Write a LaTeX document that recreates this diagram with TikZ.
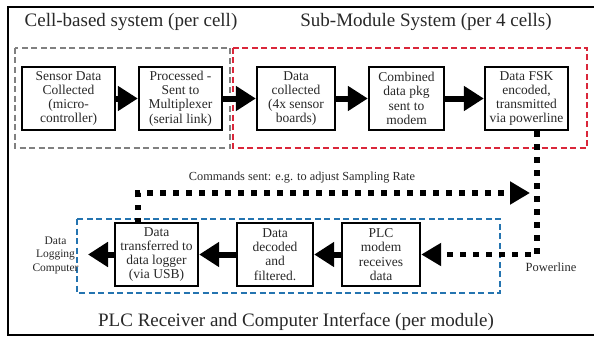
\documentclass[tikz,border=0pt]{standalone}
\usepackage{fontspec}
\setmainfont{Liberation Serif}
\usetikzlibrary{arrows.meta}
\definecolor{dred}{RGB}{218,38,58}
\definecolor{dblue}{RGB}{36,116,176}
\definecolor{dgray}{RGB}{128,128,128}
\definecolor{txt}{RGB}{40,40,40}
\tikzset{
  stepbox/.style={draw=black, line width=2.4pt, inner sep=0pt, align=center, text=txt,
    minimum height=63pt, font=\fontsize{13.5}{14.3}\selectfont},
  groupbox/.style={line width=2pt, dash pattern=on 6pt off 3.5pt},
  flow/.style={line width=6pt, -{Triangle[length=20pt,width=24pt]}},
  dotflow/.style={line width=5.5pt, dash pattern=on 5.5pt off 7.5pt,
    -{Triangle[length=20pt,width=22pt]}},
  title/.style={text=txt, font=\fontsize{19}{22}\selectfont, inner sep=0pt},
  small/.style={text=txt, align=center, inner sep=0pt}
}
\begin{document}
\begin{tikzpicture}[x=1pt,y=-1pt]
\useasboundingbox (0,0) rectangle (594,337);
% frame
\draw[line width=2pt] (594,7) -- (8,7) -- (8,335) -- (594,335);
% titles
\node[title] (t1) at (131,22) {Cell-based system (per cell)};
\node[title] (t2) at (426,22) {Sub-Module System (per 4 cells)};
\node[title] (t3) at (296,322) {PLC Receiver and Computer Interface (per module)};
% group boxes
\draw[groupbox, draw=dgray] (15,48) rectangle (230,148);
\draw[groupbox, draw=dred] (233,48) rectangle (587,148);
\draw[groupbox, draw=dblue] (77,219) rectangle (500,293);
% top row
\node[stepbox, minimum width=93pt] (b1) at (68.5,98.5) {Sensor Data\\Collected\\(micro-\\controller)};
\node[stepbox, minimum width=83pt] (b2) at (180.5,98.5) {Processed -\\Sent to\\Multiplexer\\(serial link)};
\node[stepbox, minimum width=78pt] (b3) at (296,98.5) {Data\\collected\\(4x sensor\\boards)};
\node[stepbox, minimum width=75pt] (b4) at (406.5,98.5) {Combined\\data pkg\\sent to\\modem};
\node[stepbox, minimum width=83pt] (b5) at (526.5,98.5) {Data FSK\\encoded,\\transmitted\\via powerline};
% bottom row
\node[stepbox, minimum width=83pt] (b6) at (156.5,254.5) {Data\\transferred to\\data logger\\(via USB)};
\node[stepbox, minimum width=76pt] (b7) at (275,254.5) {Data\\decoded\\and\\filtered.};
\node[stepbox, minimum width=78pt] (b8) at (381,254.5) {PLC\\modem\\receives\\data};
\node[small, font=\fontsize{11.5}{13.5}\selectfont] (dlc) at (55.5,255) {Data\\Logging\\Computer};
\node[small, font=\fontsize{12.5}{14}\selectfont] (pw) at (551,267) {Powerline};
\node[small, font=\fontsize{12.3}{14}\selectfont] (cmd) at (302,178) {Commands sent: e.g. to adjust Sampling Rate};
% coordinates
\coordinate (pstart) at (537,131);
\coordinate (pcorner) at (537,254.5);
\coordinate (cstart) at (138,223);
\coordinate (ccorner) at (138,193);
\coordinate (cend) at (530,193);
\coordinate (dlcend) at (88,254.5);
% solid flows
\draw[flow] (b1.east) -- (b2.west);
\draw[flow] (b2.east) -- (b3.west);
\draw[flow] (b3.east) -- (b4.west);
\draw[flow] (b4.east) -- (b5.west);
\draw[flow] (b8.west) -- (b7.east);
\draw[flow] (b7.west) -- (b6.east);
\draw[flow] (b6.west) -- (dlcend);
% dotted flows
\draw[dotflow] (pstart) -- (pcorner) -- (b8.east);
\draw[dotflow] (cstart) -- (ccorner) -- (cend);
\end{tikzpicture}
\end{document}
